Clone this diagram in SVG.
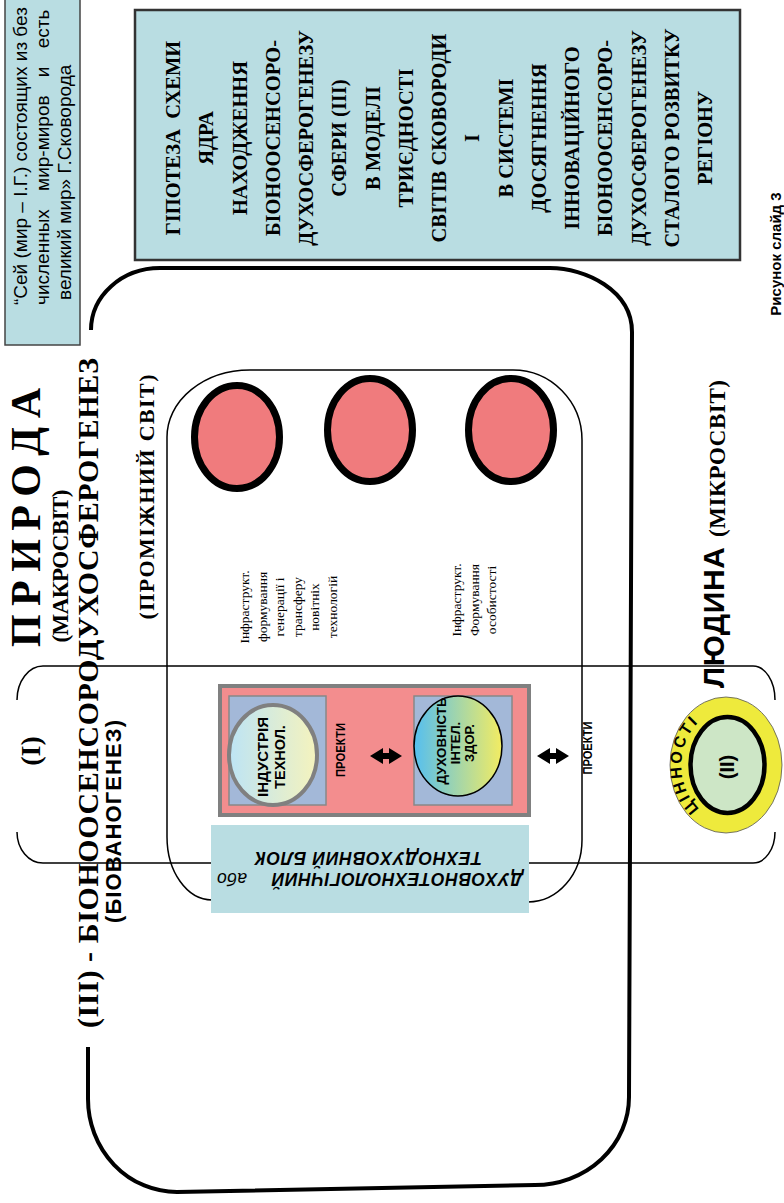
<svg xmlns="http://www.w3.org/2000/svg" width="784" height="1203" viewBox="0 0 784 1203">
<defs>
<style>
.tr{font-family:"Liberation Serif","Times New Roman",serif;font-weight:bold}
.ar{font-family:"Liberation Sans",Arial,sans-serif}
.b{font-weight:bold}
.mid{text-anchor:middle}
.thin{fill:none;stroke:#000;stroke-width:1.5}
.thick{fill:none;stroke:#000;stroke-width:4}
.red{fill:#f07b7d;stroke:#000;stroke-width:7}
.lb{fill:#b9dde2}
.sq{fill:#a3b8d8;stroke:#888;stroke-width:1.5}
</style>
<linearGradient id="g1" x1="0" y1="0" x2="1" y2="0"><stop offset="0" stop-color="#bde4f5"/><stop offset="1" stop-color="#f5f3bd"/></linearGradient>
<linearGradient id="g2" x1="0" y1="0" x2="1" y2="0"><stop offset="0" stop-color="#55bff0"/><stop offset="1" stop-color="#f3ec62"/></linearGradient>
<path id="arrow" d="M-16,0 L-3,-8 L-3,-3 L3,-3 L3,-8 L16,0 L3,8 L3,3 L-3,3 L-3,8 Z"/>
<path id="ringPath" d="M704,812 A42,53 0 0 1 704,718"/>
</defs>
<rect width="784" height="1203" fill="#fff"/>

<g id="connectors">
<path class="thin" d="M17,700 A26,34 0 0 1 43,666 L753,666 A22,34 0 0 1 775,700"/>
<path class="thin" d="M775,832 A22,31 0 0 1 753,863 L43,863 A26,31 0 0 1 17,832"/>
<path class="thin" d="M167,437 A83,67 0 0 1 250,370 L513,370 A69,70 0 0 1 582,440 L582,840 A54,62 0 0 1 528,902 L212,900 A45,63 0 0 1 167,837 Z"/>
<path class="thick" d="M91,330 A69,62 0 0 1 160,268 L550,268 C585,268 632,290 632,332 L629,1097 A94,88 0 0 1 535,1185 L177,1192 A89,93 0 0 1 88,1099 L88,1047"/>
</g>

<g id="quote">
<rect x="5" y="-5" width="75" height="350" class="lb" stroke="#444" stroke-width="1.5"/>
<g class="ar" font-size="19">
<text transform="translate(27,305) rotate(-90)">“Сей (мир – І.Г.) состоящих из без</text>
<text transform="translate(49,305) rotate(-90)" word-spacing="13">численных мир-миров и есть</text>
<text transform="translate(71,300) rotate(-90)">великий мир» Г.Сковорода</text>
</g>
</g>

<g id="title">
<rect x="135" y="10" width="605" height="250" class="lb" stroke="#333" stroke-width="2.5"/>
<g class="tr mid" font-size="20.5">
<text transform="translate(180,138) rotate(-90)" style="white-space:pre">ГІПОТЕЗА  СХЕМИ</text>
<text transform="translate(213.25,138) rotate(-90)">ЯДРА</text>
<text transform="translate(246.5,138) rotate(-90)">НАХОДЖЕННЯ</text>
<text transform="translate(279.75,138) rotate(-90)">БІОНООСЕНСОРО-</text>
<text transform="translate(313,138) rotate(-90)">ДУХОСФЕРОГЕНЕЗУ</text>
<text transform="translate(346.25,138) rotate(-90)">СФЕРИ (ІІІ)</text>
<text transform="translate(379.5,138) rotate(-90)">В МОДЕЛІ</text>
<text transform="translate(412.75,138) rotate(-90)">ТРИЄДНОСТІ</text>
<text transform="translate(446,138) rotate(-90)">СВІТІВ СКОВОРОДИ</text>
<text transform="translate(479.25,138) rotate(-90)">І</text>
<text transform="translate(512.5,138) rotate(-90)">В СИСТЕМІ</text>
<text transform="translate(545.75,138) rotate(-90)">ДОСЯГНЕННЯ</text>
<text transform="translate(579,138) rotate(-90)">ІННОВАЦІЙНОГО</text>
<text transform="translate(612.25,138) rotate(-90)">БІОНООСЕНСОРО-</text>
<text transform="translate(645.5,138) rotate(-90)">ДУХОСФЕРОГЕНЕЗУ</text>
<text transform="translate(678.75,138) rotate(-90)">СТАЛОГО РОЗВИТКУ</text>
<text transform="translate(712,138) rotate(-90)">РЕГІОНУ</text>
</g>
</g>

<g id="nature-labels">
<text class="tr mid" font-size="42" transform="translate(40,517.5) rotate(-90)" textLength="259" lengthAdjust="spacing">П Р И Р О Д А</text>
<text class="tr mid" font-size="23" transform="translate(68,566) rotate(-90)" textLength="153" lengthAdjust="spacing">(МАКРОСВІТ)</text>
<text class="tr mid" font-size="30" transform="translate(98,693) rotate(-90)" textLength="670" lengthAdjust="spacing">(ІІІ) - БІОНООСЕНСОРОДУХОСФЕРОГЕНЕЗ</text>
<text class="ar b mid" font-size="22" transform="translate(121,821.5) rotate(-90)" textLength="203" lengthAdjust="spacing">(БІОВАНОГЕНЕЗ)</text>
<text class="tr mid" font-size="28" transform="translate(40,751) rotate(-90)">(І)</text>
<text class="tr mid" font-size="22" transform="translate(154,497) rotate(-90)" textLength="245" lengthAdjust="spacing">(ПРОМІЖНИЙ СВІТ)</text>
</g>

<g id="circles">
<ellipse class="red" cx="237" cy="437" rx="42.5" ry="51.5"/>
<ellipse class="red" cx="370" cy="430" rx="42.5" ry="51.5"/>
<ellipse class="red" cx="511" cy="430" rx="42.5" ry="51.5"/>
</g>

<g id="infra-1" class="tr mid" font-size="13.5" style="font-weight:normal">
<text transform="translate(249,607) rotate(-90)">Інфраструкт.</text>
<text transform="translate(266.5,607) rotate(-90)">формування</text>
<text transform="translate(284,607) rotate(-90)">генерації і</text>
<text transform="translate(301.5,607) rotate(-90)">трансферу</text>
<text transform="translate(319,607) rotate(-90)">новітніх</text>
<text transform="translate(336.5,607) rotate(-90)">технологій</text>
</g>
<g id="infra-2" class="tr mid" font-size="13.5" style="font-weight:normal">
<text transform="translate(461,600) rotate(-90)">Інфраструкт.</text>
<text transform="translate(478.5,600) rotate(-90)">Формування</text>
<text transform="translate(496,600) rotate(-90)">особистості</text>
</g>

<g id="projects-box">
<rect x="220" y="686" width="309" height="129" fill="#f38d8e" stroke="#808080" stroke-width="4"/>
<rect class="sq" x="229" y="696" width="97" height="109"/>
<rect class="sq" x="414" y="696" width="98" height="109"/>
</g>
<g id="industry">
<ellipse cx="273" cy="755" rx="44" ry="50" fill="url(#g1)" stroke="#808080" stroke-width="4"/>
<g class="ar b mid" font-size="14.5">
<text transform="translate(268,757) rotate(-90)" textLength="80" lengthAdjust="spacingAndGlyphs">ІНДУСТРІЯ</text>
<text transform="translate(285,757) rotate(-90)">ТЕХНОЛ.</text>
</g>
</g>
<g id="spirit">
<ellipse cx="458" cy="746" rx="44" ry="50" fill="url(#g2)" stroke="#000" stroke-width="1.5"/>
<g class="ar b mid" font-size="13">
<text transform="translate(446,741) rotate(-90)" textLength="87" lengthAdjust="spacingAndGlyphs">ДУХОВНІСТЬ</text>
<text transform="translate(460,743) rotate(-90)">ІНТЕЛ.</text>
<text transform="translate(474,743) rotate(-90)">ЗДОР.</text>
</g>
</g>
<g id="projects-labels">
<text class="ar b mid" font-size="12.5" transform="translate(345,750) rotate(-90)" textLength="54" lengthAdjust="spacingAndGlyphs">ПРОЕКТИ</text>
<text class="ar b mid" font-size="12.5" transform="translate(592,748) rotate(-90)" textLength="53" lengthAdjust="spacingAndGlyphs">ПРОЕКТИ</text>
<use href="#arrow" x="386" y="756"/>
<use href="#arrow" x="553" y="756"/>
</g>

<g id="block">
<rect x="211" y="825" width="318" height="88" class="lb"/>
<g class="ar" font-size="17.5" font-style="italic">
<text class="b" transform="translate(523,873) rotate(180)" textLength="251" lengthAdjust="spacing">ДУХОВНОТЕХНОЛОГІЧНИЙ</text>
<text transform="translate(247,873) rotate(180)" textLength="30">або</text>
<text class="b" transform="translate(482,852) rotate(180)" textLength="227" lengthAdjust="spacing">ТЕХНОДУХОВНИЙ БЛОК</text>
</g>
</g>

<g id="human">
<text class="ar b mid" font-size="30" transform="translate(724,617.5) rotate(-90)" textLength="141" lengthAdjust="spacing">ЛЮДИНА</text>
<text class="tr mid" font-size="23" transform="translate(725,458.5) rotate(-90)" textLength="157" lengthAdjust="spacing">(МІКРОСВІТ)</text>
</g>

<g id="values">
<ellipse cx="726" cy="765" rx="56" ry="68" fill="#eeea3c" stroke="#555" stroke-width="0.8"/>
<ellipse cx="727.5" cy="765" rx="37" ry="48" fill="#cde6c6" stroke="#000" stroke-width="4.5"/>
<text class="ar b" font-size="16" letter-spacing="2.5"><textPath href="#ringPath" startOffset="50%" text-anchor="middle">ЦІННОСТІ</textPath></text>
<text class="ar b mid" font-size="20" transform="translate(734,767) rotate(-90)">(ІІ)</text>
</g>

<g id="caption">
<text class="ar b mid" font-size="15" transform="translate(781,254) rotate(-90)">Рисунок слайд 3</text>
</g>
</svg>
